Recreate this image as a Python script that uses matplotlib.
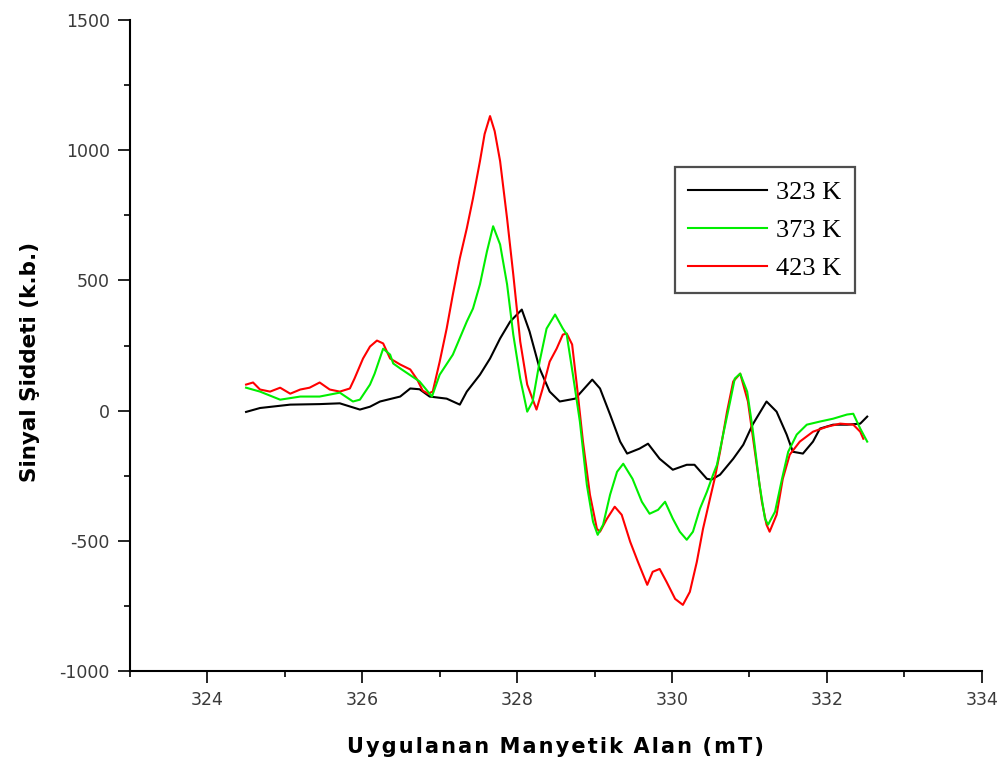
import matplotlib
matplotlib.use("Agg")
import matplotlib.pyplot as plt
from matplotlib.ticker import MultipleLocator

plt.rcParams["axes.unicode_minus"] = False

# EPR spectra: field (mT) vs signal intensity (a.u.)
x_323 = [324.50, 324.68, 325.07, 325.45, 325.71, 325.97, 326.10, 326.23, 326.49, 326.62,
         326.74, 326.87, 327.09, 327.26, 327.35, 327.52, 327.65, 327.78, 327.91, 328.06,
         328.16, 328.29, 328.42, 328.55, 328.75, 328.97, 329.07, 329.20, 329.33, 329.42,
         329.58, 329.69, 329.84, 330.01, 330.19, 330.29, 330.45, 330.51, 330.62, 330.79,
         330.92, 331.04, 331.22, 331.35, 331.48, 331.56, 331.69, 331.82, 331.91, 332.08,
         332.26, 332.43, 332.52]
y_323 = [-5, 10, 23, 25, 28, 4, 15, 35, 54, 85,
         82, 54, 46, 23, 73, 138, 200, 277, 342, 388,
         304, 162, 73, 35, 46, 119, 85, -15, -119, -165,
         -146, -127, -185, -227, -208, -208, -262, -265, -246, -185,
         -131, -54, 35, -4, -92, -158, -165, -119, -69, -54,
         -54, -50, -23]

x_373 = [324.50, 324.68, 324.94, 325.20, 325.45, 325.71, 325.88, 325.97, 326.10, 326.16,
         326.27, 326.36, 326.40, 326.49, 326.74, 326.90, 327.00, 327.17, 327.35, 327.43,
         327.52, 327.61, 327.69, 327.78, 327.87, 327.95, 328.04, 328.13, 328.20, 328.29,
         328.38, 328.49, 328.59, 328.64, 328.72, 328.81, 328.90, 328.98, 329.04, 329.11,
         329.20, 329.29, 329.37, 329.49, 329.61, 329.71, 329.82, 329.91, 330.01, 330.10,
         330.19, 330.27, 330.36, 330.45, 330.53, 330.58, 330.66, 330.75, 330.81, 330.88,
         330.97, 331.04, 331.13, 331.20, 331.24, 331.33, 331.42, 331.50, 331.61, 331.74,
         331.91, 332.08, 332.26, 332.34, 332.43, 332.52]
y_373 = [88, 73, 42, 54, 54, 69, 35, 42, 100, 142,
         238, 215, 181, 162, 112, 54, 138, 215, 342, 392,
         485, 611, 708, 638, 485, 292, 123, -4, 35, 188,
         315, 369, 315, 292, 138, -42, -285, -427, -477, -438,
         -323, -235, -204, -262, -350, -396, -381, -350, -415, -465,
         -496, -465, -377, -312, -246, -208, -92, 35, 123, 142,
         73, -69, -285, -415, -438, -388, -262, -158, -92, -54,
         -42, -31, -15, -12, -69, -119]

x_423 = [324.50, 324.59, 324.68, 324.81, 324.94, 325.07, 325.20, 325.32, 325.45, 325.58,
         325.71, 325.84, 325.90, 326.01, 326.10, 326.19, 326.27, 326.36, 326.49, 326.62,
         326.71, 326.78, 326.85, 326.91, 327.00, 327.09, 327.17, 327.26, 327.35, 327.43,
         327.52, 327.58, 327.65, 327.71, 327.78, 327.87, 327.95, 328.04, 328.13, 328.25,
         328.33, 328.42, 328.51, 328.59, 328.64, 328.71, 328.77, 328.85, 328.94, 329.03,
         329.07, 329.16, 329.26, 329.35, 329.46, 329.56, 329.68, 329.75, 329.84, 329.93,
         330.04, 330.14, 330.23, 330.32, 330.40, 330.49, 330.55, 330.62, 330.71, 330.79,
         330.88, 330.98, 331.07, 331.16, 331.22, 331.26, 331.35, 331.43, 331.52, 331.65,
         331.82, 332.00, 332.17, 332.34, 332.43, 332.47]
y_423 = [100, 108, 81, 73, 88, 65, 81, 88, 108, 81,
         73, 85, 123, 200, 246, 269, 258, 200, 177, 158,
         119, 77, 65, 73, 188, 315, 446, 585, 700, 815,
         958, 1062, 1131, 1073, 958, 738, 523, 265, 100, 4,
         85, 188, 238, 292, 296, 254, 100, -119, -323, -454,
         -465, -415, -369, -400, -504, -581, -669, -619, -608, -658,
         -723, -746, -696, -581, -454, -338, -262, -158, -4, 112,
         142, 35, -158, -350, -438, -465, -400, -262, -169, -119,
         -81, -62, -50, -54, -81, -108]

series_labels = ["323 K", "373 K", "423 K"]
series_colors = ["#000000", "#00ee00", "#ff0000"]

x_ticks = [324, 326, 328, 330, 332, 334]
y_ticks = [-1000, -500, 0, 500, 1000, 1500]

fig = plt.figure(figsize=(10.07, 7.69), dpi=100)
ax = fig.add_axes([0.129, 0.1274, 0.846, 0.8466])

h1, = ax.plot(x_323, y_323, color=series_colors[0], lw=1.5, zorder=2)
h3, = ax.plot(x_423, y_423, color=series_colors[2], lw=1.5, zorder=3)
h2, = ax.plot(x_373, y_373, color=series_colors[1], lw=1.5, zorder=4)

ax.set_xlim(323, 334)
ax.set_ylim(-1000, 1500)
ax.set_xticks(x_ticks)
ax.set_yticks(y_ticks)
ax.xaxis.set_minor_locator(MultipleLocator(1))
ax.yaxis.set_minor_locator(MultipleLocator(250))

for side in ("top", "right"):
    ax.spines[side].set_visible(False)
for side in ("left", "bottom"):
    ax.spines[side].set_linewidth(1.5)

ax.tick_params(which="major", direction="out", length=8.5, width=1.2,
               labelsize=12.5, labelcolor="#3a3a3a", pad=6)
ax.tick_params(which="minor", direction="out", length=4.5, width=1.2)

xlabel = "\u200a".join("Uygulanan Manyetik Alan (mT)").replace("\u200a \u200a", "\u2002")
ax.set_xlabel(xlabel, fontsize=15, fontweight="bold", labelpad=20)
fig.text(30 / 1007, 1 - 362 / 769, "Sinyal Şiddeti (k.b.)", rotation=90,
         ha="center", va="center", fontsize=15.5, fontweight="bold")

leg = ax.legend([h1, h2, h3], series_labels, loc="upper left",
                bbox_to_anchor=(0.6397, 0.774), borderaxespad=0,
                frameon=True, fancybox=False,
                prop={"family": "Liberation Serif", "size": 19},
                handlelength=3.0, handletextpad=0.35, borderpad=0.5,
                labelspacing=0.55)
leg.get_frame().set_edgecolor("#222222")
leg.get_frame().set_linewidth(1.6)

fig.savefig("out.png", dpi=100)
